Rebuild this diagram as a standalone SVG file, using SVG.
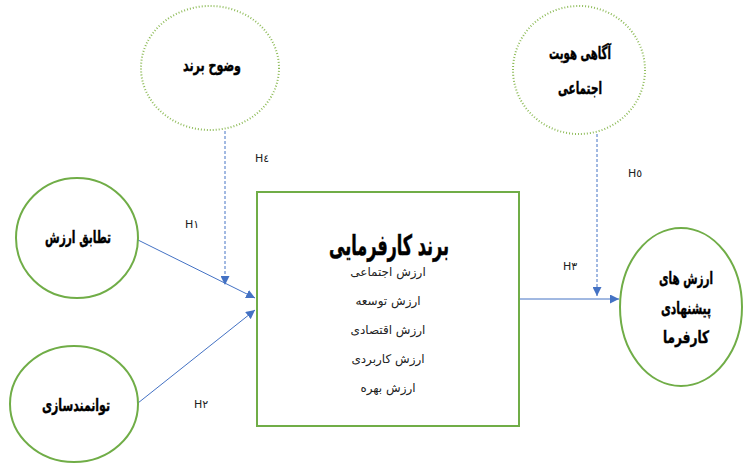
<svg xmlns="http://www.w3.org/2000/svg" width="744" height="464" viewBox="0 0 744 464">
<style>
.bg{fill:#ffffff}
.solid{fill:#ffffff;stroke:#70ad47;stroke-width:2}
.dot{fill:#ffffff;stroke:#8fbc5a;stroke-width:2;stroke-dasharray:1 2}
.ln{stroke:#4472c4;stroke-width:1;fill:none}
.dash{stroke:#4472c4;stroke-width:1;fill:none;stroke-dasharray:3 2}
.lbl{font-family:"DejaVu Sans Condensed","DejaVu Sans",sans-serif;font-weight:bold;font-size:17px;fill:#000;text-anchor:middle;dominant-baseline:central;stroke:#000;stroke-width:0.4}
.title{font-family:"DejaVu Sans Condensed","DejaVu Sans",sans-serif;font-weight:bold;font-size:28px;fill:#000;text-anchor:middle;dominant-baseline:central;stroke:#000;stroke-width:0.5}
.sub{font-family:"DejaVu Sans","Noto Sans",sans-serif;font-size:12px;fill:#222;text-anchor:middle;dominant-baseline:central}
.h{font-family:"DejaVu Sans","Liberation Sans",sans-serif;font-size:11px;fill:#222;text-anchor:middle;dominant-baseline:central}
</style>
<defs>
<marker id="arr" viewBox="0 0 10 10" refX="10" refY="5" markerWidth="9" markerHeight="9" markerUnits="userSpaceOnUse" orient="auto">
<path d="M0,0 L10,5 L0,10 z" fill="#4472c4"/>
</marker>
</defs>
<rect class="bg" x="0" y="0" width="744" height="464"/>
<g id="connectors">
<line class="ln" x1="138" y1="240" x2="255" y2="298" marker-end="url(#arr)"/>
<line class="ln" x1="138" y1="403" x2="255" y2="310" marker-end="url(#arr)"/>
<line class="dash" x1="225" y1="131" x2="225" y2="285" marker-end="url(#arr)"/>
<line class="dash" x1="597" y1="134" x2="597" y2="296" marker-end="url(#arr)"/>
<line class="ln" x1="519" y1="299" x2="619" y2="299" marker-end="url(#arr)"/>
<text class="h" x="192" y="224">H١</text>
<text class="h" x="201" y="404">H٢</text>
<text class="h" x="262" y="158">H٤</text>
<text class="h" x="635" y="173">H٥</text>
<text class="h" x="570" y="266">H٣</text>
</g>
<g id="node-clarity">
<ellipse class="dot" cx="210" cy="68" rx="69" ry="62"/>
<text class="lbl" x="212" y="65" textLength="58" lengthAdjust="spacingAndGlyphs">وضوح برند</text>
</g>
<g id="node-identity">
<ellipse class="dot" cx="579" cy="70" rx="66" ry="64"/>
<text class="lbl" x="580" y="53" textLength="62" lengthAdjust="spacingAndGlyphs">آگاهی هویت</text>
<text class="lbl" x="580" y="88" textLength="44" lengthAdjust="spacingAndGlyphs">اجتماعی</text>
</g>
<g id="node-fit">
<ellipse class="solid" cx="77" cy="238" rx="61" ry="60"/>
<text class="lbl" x="78" y="237" textLength="66" lengthAdjust="spacingAndGlyphs">تطابق ارزش</text>
</g>
<g id="node-empower">
<ellipse class="solid" cx="74" cy="404" rx="64" ry="58"/>
<text class="lbl" x="76" y="405" textLength="68" lengthAdjust="spacingAndGlyphs">توانمندسازی</text>
</g>
<g id="node-brand">
<rect class="solid" x="257" y="192" width="262" height="234"/>
<text class="title" x="389" y="245" textLength="120" lengthAdjust="spacingAndGlyphs">برند کارفرمایی</text>
<text class="sub" x="388" y="272">ارزش اجتماعی</text>
<text class="sub" x="388" y="301">ارزش توسعه</text>
<text class="sub" x="388" y="330">ارزش اقتصادی</text>
<text class="sub" x="388" y="359">ارزش کاربردی</text>
<text class="sub" x="388" y="388">ارزش بهره</text>
</g>
<g id="node-offer">
<ellipse class="solid" cx="681" cy="307" rx="61" ry="79"/>
<text class="lbl" x="686" y="278" textLength="54" lengthAdjust="spacingAndGlyphs">ارزش های</text>
<text class="lbl" x="686" y="308" textLength="50" lengthAdjust="spacingAndGlyphs">پیشنهادی</text>
<text class="lbl" x="686" y="337" textLength="46" lengthAdjust="spacingAndGlyphs">کارفرما</text>
</g>
</svg>
